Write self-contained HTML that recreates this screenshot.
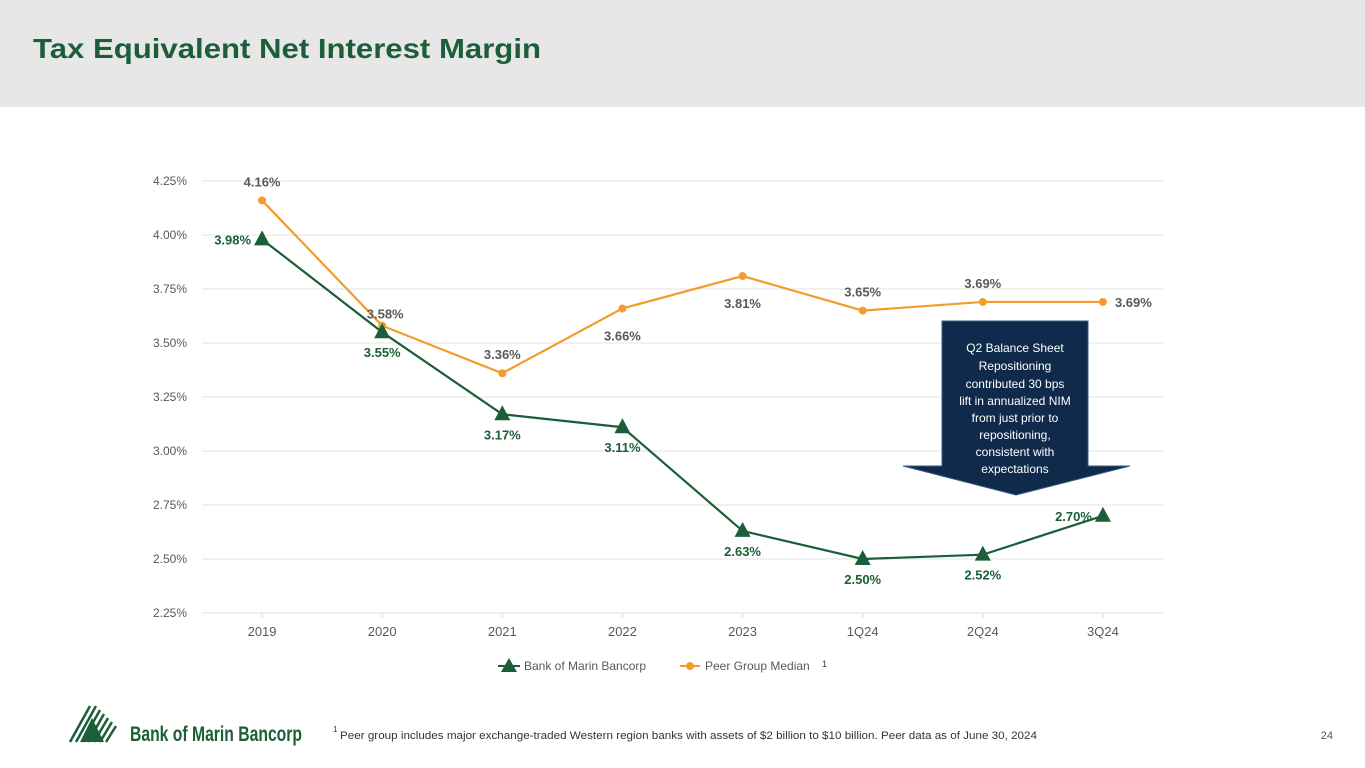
<!DOCTYPE html>
<html><head><meta charset="utf-8"><style>
body{margin:0;width:1365px;height:768px;overflow:hidden;background:#fff;font-family:"Liberation Sans",Arial,sans-serif;position:relative}
.hdr{position:absolute;left:0;top:0;width:1365px;height:107px;background:#e7e7e7}
svg{position:absolute;left:0;top:0}
</style></head><body>
<div class="hdr"></div>
<svg id="chart" width="1365" height="768"></svg>
<script>
const categories=["2019","2020","2021","2022","2023","1Q24","2Q24","3Q24"];
const bankValues=[3.98,3.55,3.17,3.11,2.63,2.50,2.52,2.70];
const peerValues=[4.16,3.58,3.36,3.66,3.81,3.65,3.69,3.69];
const yTicks=[2.25,2.50,2.75,3.00,3.25,3.50,3.75,4.00,4.25];
const bankLabelPos=["left","below","below","below","below","below","below","left"];
const peerLabelPos=["above","aboveR","above","below","below","above","above","right"];
const NS="http://www.w3.org/2000/svg";
const svg=document.getElementById('chart');
const x0=202,x1=1163,y0=613,y1=181;
const step=(x1-x0)/categories.length;
const xs=i=>x0+step*(i+0.5);
const ys=v=>y0-(v-2.25)/(4.25-2.25)*(y0-y1);
function el(t,a,txt){const e=document.createElementNS(NS,t);for(const k in a)e.setAttribute(k,a[k]);if(txt!=null)e.textContent=txt;svg.appendChild(e);return e;}
yTicks.forEach(v=>{
 const g=el('line',{x1:x0,x2:x1,y1:ys(v),y2:ys(v),stroke:'#e3e3e3','stroke-width':1});
 
 
 const t=el('text',{x:187,y:ys(v)+4,'text-anchor':'end','font-size':12,fill:'#595959'},v.toFixed(2)+'%');
 
 
});
categories.forEach((c,i)=>{
 const tk=el('line',{x1:xs(i),x2:xs(i),y1:y0,y2:y0+5,stroke:'#d9d9d9'});
 
 
 const t=el('text',{x:xs(i),y:636,'text-anchor':'middle','font-size':13,fill:'#595959'},c);
 
 
});
function series(vals,color,name){
 const p=el('polyline',{points:vals.map((v,i)=>xs(i)+','+ys(v)).join(' '),fill:'none',stroke:color,'stroke-width':2.2});
 
 
}
series(peerValues,'#f39c2c','peer');
series(bankValues,'#1b5e37','bank');
peerValues.forEach((v,i)=>{
 const c=el('circle',{cx:xs(i),cy:ys(v),r:4,fill:'#f39c2c'});
 
 
 const pos=peerLabelPos[i];let x=xs(i),y=ys(v),a='middle';
 if(pos==='above')y-=14;else if(pos==='below')y+=32;else if(pos==='aboveR'){y-=7;x+=3;}else{x+=12;y+=5;a='start';}
 const t=el('text',{x:x,y:y,'text-anchor':a,'font-size':13,'font-weight':'bold',fill:'#595959'},v.toFixed(2)+'%');
 
 
});
bankValues.forEach((v,i)=>{
 const x=xs(i),y=ys(v);
 const m=el('polygon',{points:`${x},${y-9} ${x-8},${y+6} ${x+8},${y+6}`,fill:'#1b5e37'});
 
 
 const pos=bankLabelPos[i];let lx=x,ly=y,a='middle';
 if(pos==='below')ly+=25;else{lx-=11;ly+=5;a='end';}
 const t=el('text',{x:lx,y:ly,'text-anchor':a,'font-size':13,'font-weight':'bold',fill:'#1b5e37'},v.toFixed(2)+'%');
 
 
});
</script>
<svg width="1365" height="768" style="pointer-events:none">
<text x="33" y="58" font-size="28" font-weight="bold" fill="#1d5e3a" textLength="508" lengthAdjust="spacingAndGlyphs">Tax Equivalent Net Interest Margin</text>
<g>
<path d="M942,321 H1088 V466 H1130 L1016,495 L903,466 H942 Z" fill="#0f2a4a" stroke="#3a5c86" stroke-width="1"/>
<g font-size="12" fill="#fff" text-anchor="middle" font-family="Liberation Sans,sans-serif">
<text x="1015" y="352">Q2 Balance Sheet</text><text x="1015" y="370">Repositioning</text><text x="1015" y="388">contributed 30 bps</text><text x="1015" y="405">lift in annualized NIM</text><text x="1015" y="422">from just prior to</text><text x="1015" y="439">repositioning,</text><text x="1015" y="456">consistent with</text><text x="1015" y="473">expectations</text>
</g></g>
<g font-size="12" fill="#595959">
<line x1="498" x2="520" y1="666" y2="666" stroke="#1b5e37" stroke-width="2"/><polygon points="509,658 501,672 517,672" fill="#1b5e37"/>
<text x="524" y="670">Bank of Marin Bancorp</text>
<line x1="680" x2="700" y1="666" y2="666" stroke="#f39c2c" stroke-width="2"/><circle cx="690" cy="666" r="4" fill="#f39c2c"/>
<text x="705" y="670">Peer Group Median</text><text x="822" y="667" font-size="9" fill="#333">1</text>
</g>
<g>
<g stroke="#1b5e37" stroke-width="2.5"><line x1="70" y1="742" x2="90" y2="706"/><line x1="76" y1="742" x2="96" y2="706"/><line x1="82" y1="742" x2="100" y2="710"/><line x1="88" y1="742" x2="104" y2="714"/><line x1="94" y1="742" x2="108" y2="718"/><line x1="100" y1="742" x2="112" y2="722"/><line x1="106" y1="742" x2="116" y2="726"/></g>
<polygon points="92,718 80,742 104,742" fill="#1b5e37"/>
<text x="130" y="741" font-size="21" font-weight="bold" fill="#1b5e37" font-family="Liberation Sans Narrow,Liberation Sans,sans-serif" textLength="172" lengthAdjust="spacingAndGlyphs">Bank of Marin Bancorp</text>
</g>
<g fill="#333">
<text x="333" y="732" font-size="8">1</text>
<text x="340" y="739" font-size="11" textLength="697" lengthAdjust="spacingAndGlyphs">Peer group includes major exchange-traded Western region banks with assets of $2 billion to $10 billion. Peer data as of June 30, 2024</text>
</g>
<text x="1333" y="739" font-size="11" fill="#595959" text-anchor="end">24</text>
</svg>
</body></html>
